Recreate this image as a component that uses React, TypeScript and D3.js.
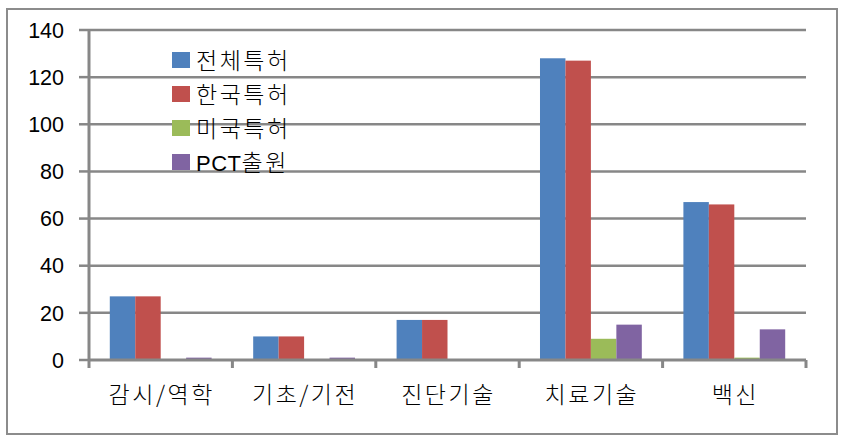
import React from "react";
import * as d3 from "d3";

const categories = ["감시/역학", "기초/기전", "진단기술", "치료기술", "백신"];
const seriesNames = ["전체특허", "한국특허", "미국특허", "PCT출원"];
const total = [27, 10, 17, 128, 67];
const korea = [27, 10, 17, 127, 66];
const usa = [0, 0, 0, 9, 1];
const pct = [1, 1, 0, 15, 13];
const yTicks = [0, 20, 40, 60, 80, 100, 120, 140];
const colors = ["#4F81BD", "#C0504D", "#9BBB59", "#8064A2"];

function splitLatin(s: string) {
  const parts: { t: string; latin: boolean }[] = [];
  for (const ch of s) {
    const latin = /[A-Za-z0-9]/.test(ch);
    const last = parts[parts.length - 1];
    if (last && last.latin === latin) last.t += ch;
    else parts.push({ t: ch, latin });
  }
  return parts;
}

export default function App() {
  const W = 845, H = 438;
  const left = 89, right = 806, top = 30, bottom = 360;
  const series = [total, korea, usa, pct];
  const x = d3.scaleBand<string>().domain(categories).range([left, right]).paddingInner(0.29).paddingOuter(0.145);
  const x0 = d3.scaleBand<string>().domain(categories).range([left, right]);
  const xs = d3.scaleBand<number>().domain([0, 1, 2, 3]).range([0, x.bandwidth()]);
  const y = d3.scaleLinear().domain([0, 140]).range([bottom, top]);
  const grid = "#878787";
  const font = "'Noto Sans CJK KR', 'Liberation Sans', sans-serif";
  return (
    <svg width={W} height={H} style={{ position: "absolute", left: 0, top: 0 }}>
      <rect x={0} y={0} width={W} height={H} fill="#fff" />
      <rect x={7} y={9} width={830} height={425} fill="none" stroke="#8c8c8c" strokeWidth={2} />
      {yTicks.map((t) => (
        <g key={t}>
          {t > 0 && <line x1={left} x2={right} y1={y(t)} y2={y(t)} stroke={grid} strokeWidth={2.5} />}
          <line x1={left - 10} x2={left} y1={y(t)} y2={y(t)} stroke={grid} strokeWidth={2.5} />
          <text x={64} y={y(t)} dy="0.36em" textAnchor="end" fontSize={21.5} fontFamily="'Liberation Sans', Arial, sans-serif" fill="#000">{t}</text>
        </g>
      ))}
      {categories.map((c, i) =>
        series.map((s, j) => (
          <rect key={c + j} x={(x(c) as number) + (xs(j) as number)} y={y(s[i])} width={xs.bandwidth()} height={bottom - y(s[i])} fill={colors[j]} />
        ))
      )}
      <line x1={left} x2={left} y1={top} y2={bottom + 1} stroke={grid} strokeWidth={3} />
      <line x1={left} x2={right} y1={bottom} y2={bottom} stroke={grid} strokeWidth={3} />
      {categories.map((c) => (
        <line key={"t" + c} x1={(x0(c) as number)} x2={(x0(c) as number)} y1={bottom} y2={bottom + 8} stroke={grid} strokeWidth={3} />
      ))}
      <line x1={right} x2={right} y1={bottom} y2={bottom + 8} stroke={grid} strokeWidth={3} />
      {categories.map((c) => (
        <text key={"l" + c} x={(x0(c) as number) + x0.bandwidth() / 2 + 1} y={395} dy="0.35em" textAnchor="middle" fontSize={23} fontWeight={300} letterSpacing={2.5} fontFamily={font} fill="#000">{c}</text>
      ))}
      {seriesNames.map((n, j) => (
        <g key={n}>
          <rect x={172} y={52 + j * 34} width={18} height={16} fill={colors[j]} />
          <text x={196} y={61 + j * 34} dy="0.35em" fontSize={23} fontWeight={300} fontFamily={font} fill="#000">
            {splitLatin(n).map((p, k) => (
              <tspan key={k} letterSpacing={p.latin ? 0.5 : 2.5} fontFamily={p.latin ? "'Liberation Sans', sans-serif" : font} fontSize={p.latin ? 22 : 23}>{p.t}</tspan>
            ))}
          </text>
        </g>
      ))}
    </svg>
  );
}
